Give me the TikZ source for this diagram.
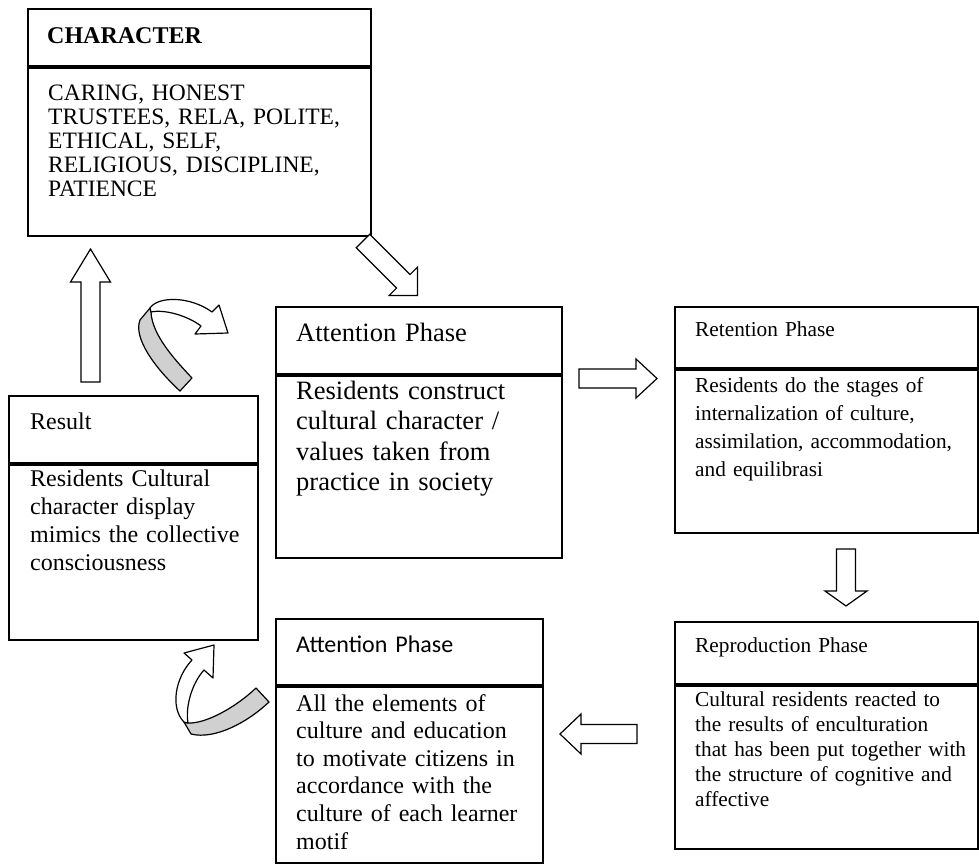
\documentclass[tikz,border=0pt]{standalone}
\usepackage{fontspec}
\setmainfont{Liberation Serif}
\newfontfamily\calibrifont{Carlito}
\usetikzlibrary{positioning,calc}
\definecolor{foldgray}{HTML}{D0D0D0}
\tikzset{
  cell/.style     ={draw, line width=1.8pt, inner sep=0pt, anchor=north west},
  celltext/.style ={inner sep=0pt, anchor=base west, text width=300pt, align=left},
  blockline/.style={draw, fill=white, line width=1.2pt, line join=miter},
  foldpart/.style ={draw, fill=foldgray, line width=1.2pt, line join=round},
  curlpart/.style ={draw, fill=white, line width=1.2pt, line join=round},
}
% start, angle, length, head length, head half width
\newcommand{\blockarrow}[5]{%
  \draw[blockline, shift={(#1)}, rotate=#2]
    (0,-9.5) -- ({#3-#4},-9.5) -- ({#3-#4},-#5) -- (#3,0)
    -- ({#3-#4},#5) -- ({#3-#4},9.5) -- (0,9.5) -- cycle;}

\begin{document}
\begin{tikzpicture}[x=1pt,y=-1pt]
  \useasboundingbox (0,0) rectangle (979,867);
  % --- character ---
  \node[cell, minimum width=343pt, minimum height=57pt] (charhead) at (27,8) {};
  \node[cell, minimum width=343pt, minimum height=168pt] (charbody) at (charhead.south west) {};
  \node[celltext, font=\fontsize{24pt}{24pt}\bfseries] (chartitle) at (47,44) {CHARACTER};
  \node[celltext, font=\fontsize{23.5pt}{24pt}\selectfont] (chartext) at (48,100)
    {CARING, HONEST\\ TRUSTEES, RELA, POLITE,\\ ETHICAL, SELF,\\ RELIGIOUS, DISCIPLINE,\\ PATIENCE};
  % --- result ---
  \node[cell, minimum width=249pt, minimum height=67pt] (resulthead) at (8,395) {};
  \node[cell, minimum width=249pt, minimum height=175pt] (resultbody) at (resulthead.south west) {};
  \node[celltext, font=\fontsize{24pt}{24pt}\selectfont] (resulttitle) at (30,429) {Result};
  \node[celltext, font=\fontsize{24pt}{28pt}\selectfont] (resulttext) at (30,486)
    {Residents Cultural\\ character display\\ mimics the collective\\ consciousness};
  % --- attention (top) ---
  \node[cell, minimum width=286pt, minimum height=67pt] (attnhead) at (275,306) {};
  \node[cell, minimum width=286pt, minimum height=182pt] (attnbody) at (attnhead.south west) {};
  \node[celltext, font=\fontsize{26.5pt}{26.5pt}\selectfont] (attntitle) at (296,341) {Attention Phase};
  \node[celltext, font=\fontsize{26.5pt}{30.5pt}\selectfont] (attntext) at (296,399)
    {Residents construct\\ cultural character /\\ values taken from\\ practice in society};
  % --- retention ---
  \node[cell, minimum width=303pt, minimum height=61pt] (rethead) at (674,306) {};
  \node[cell, minimum width=303pt, minimum height=163pt] (retbody) at (rethead.south west) {};
  \node[celltext, font=\fontsize{21.3pt}{21.3pt}\selectfont] (rettitle) at (695,336) {Retention Phase};
  \node[celltext, font=\fontsize{21.3pt}{28pt}\selectfont] (rettext) at (695,392)
    {Residents do the stages of\\ internalization of culture,\\ assimilation, accommodation,\\ and equilibrasi};
  % --- reproduction ---
  \node[cell, minimum width=303pt, minimum height=62pt] (rephead) at (674,621) {};
  \node[cell, minimum width=303pt, minimum height=163pt] (repbody) at (rephead.south west) {};
  \node[celltext, font=\fontsize{21.3pt}{21.3pt}\selectfont] (reptitle) at (695,652) {Reproduction Phase};
  \node[celltext, font=\fontsize{21.3pt}{25pt}\selectfont] (reptext) at (695,706)
    {Cultural residents reacted to\\ the results of enculturation\\ that has been put together with\\ the structure of cognitive and\\ affective};
  % --- attention (bottom) ---
  \node[cell, minimum width=267pt, minimum height=66pt] (motivhead) at (275,618) {};
  \node[cell, minimum width=267pt, minimum height=176pt] (motivbody) at (motivhead.south west) {};
  \node[celltext, font=\fontsize{24pt}{24pt}\calibrifont] (motivtitle) at (296,652) {Attention Phase};
  \node[celltext, font=\fontsize{24pt}{27.6pt}\selectfont] (motivtext) at (296,711)
    {All the elements of\\ culture and education\\ to motivate citizens in\\ accordance with the\\ culture of each learner\\ motif};

  % --- block arrows ---
  \coordinate (upfoot) at (90.5,382);
  \coordinate (diagfoot) at (363,241);
  \coordinate (rightfoot) at (579,378.5);
  \coordinate (downfoot) at (846,549);
  \coordinate (leftfoot) at (637,734);
  \blockarrow{upfoot}{90}{133}{33}{20}
  \blockarrow{diagfoot}{-45}{77}{20}{20}
  \blockarrow{rightfoot}{0}{78}{21}{19.5}
  \blockarrow{downfoot}{-90}{57}{15}{21}
  \blockarrow{leftfoot}{180}{77}{21}{20}

  % --- curled arrow, top ---
  \filldraw[foldpart] (180,391) -- (192,378) .. controls (175,360) and (152,335) .. (151,312)
    -- (150,308) -- (140,320) .. controls (133,338) and (155,368) .. (180,391) -- cycle;
  \filldraw[curlpart] (150,308) .. controls (158,296) and (190,296) .. (212,312)
    -- (219,305) -- (228,333) -- (195,334) -- (201,326)
    .. controls (188,316) and (165,309) .. (151,312) -- cycle;
  % --- curled arrow, bottom ---
  \filldraw[foldpart] (256,688) -- (269,702) .. controls (248,722) and (215,740) .. (191,734)
    -- (184,722) -- (188,723) .. controls (205,724) and (235,708) .. (256,688) -- cycle;
  \filldraw[curlpart] (184,722) .. controls (170,708) and (175,678) .. (192,660)
    -- (184,653) -- (214,645) -- (213,678) -- (204,670)
    .. controls (193,682) and (185,705) .. (188,723) -- cycle;
\end{tikzpicture}
\end{document}
